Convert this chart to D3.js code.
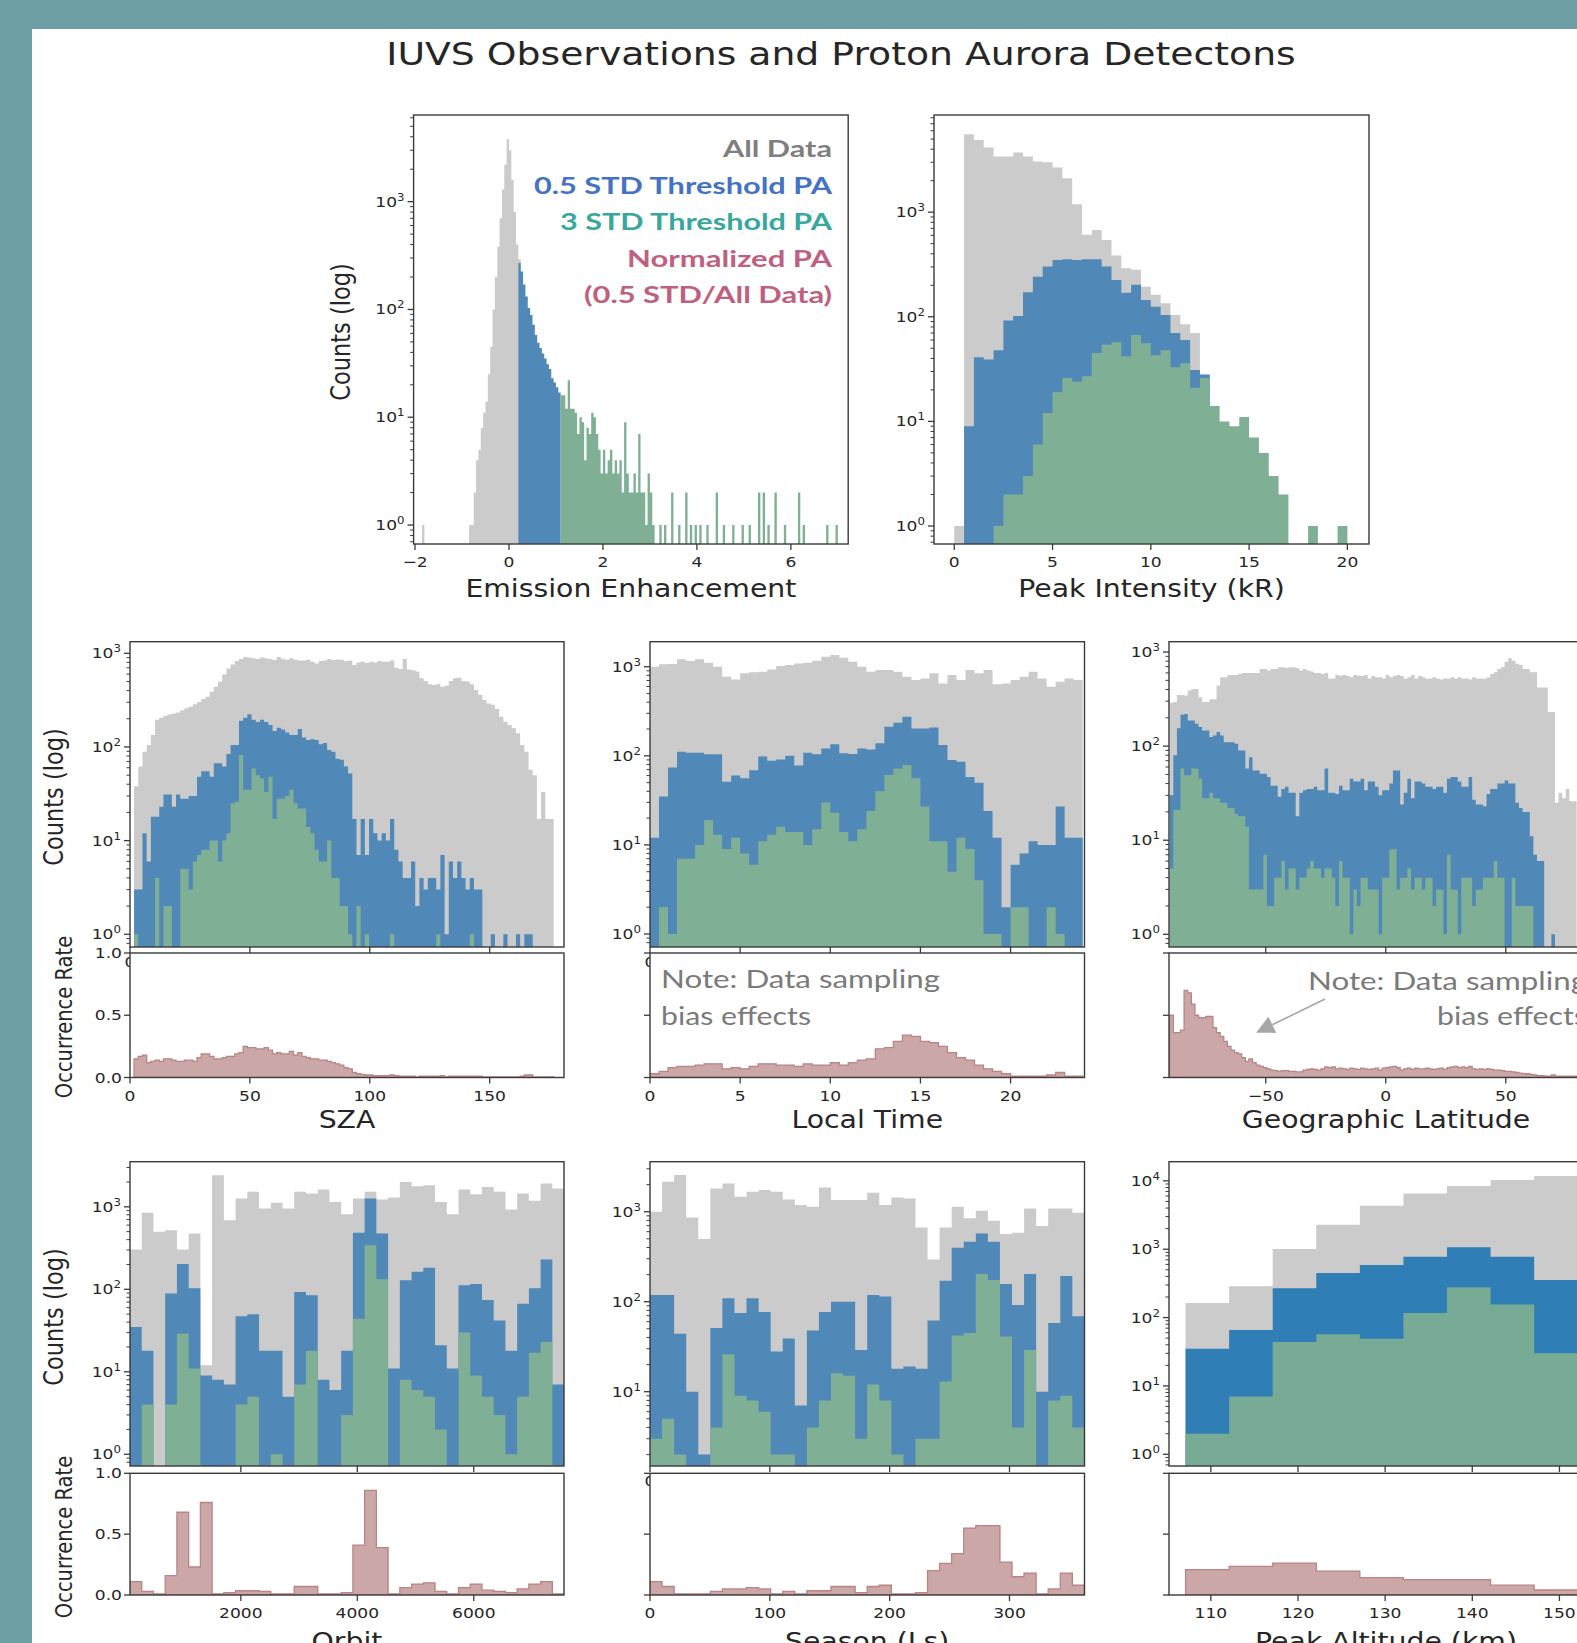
<!DOCTYPE html>
<html>
<head>
<meta charset="utf-8">
<script src="https://cdn.jsdelivr.net/npm/d3@7"></script>
<style>
  body { margin: 0; background: #6d9ea3; }
  svg { display: block; }
  text { font-family: "DejaVu Sans", sans-serif; fill: #262626; }
  .ppt { font-family: Lato, "Open Sans", sans-serif; }
</style>
</head>
<body>
<svg width="1577" height="1643"></svg>
<script>
// the pasted figure is stretched sideways on the slide
const SX = 1.18;

// ---------- data (counts per bin) ----------
const emitWidth = 0.05;
const emitAllStart = -1.85;
const emitAll = [1, 0,0,0,0,0,0,0,0,0,0,0,0,0,0,0,0,0,0,0,
  1,1,2,4,5,8,11,14,25,45,100,200,380,700,1300,2200,3800,3000,1600,800,400,290];
const emitBlueStart = 0.20;
const emitBlue = [270,225,170,132,103,89,72,58,49,44,39,35,31,28,23,21,19,17];
const emitGreenStart = 1.10;
const emitGreen = [16,16,12,22,12,12,11,7,10,9, 4,8,7,11,10,7,5,3,5,3, 4,5,3,4,3,4,2,9,3,2,
  2,3,2,7,2,2,1,3,2,1, 0,0,1,0,1,0,0,2,0,0, 1,0,0,2,0,1,0,1,0,1, 0,0,1,0,0,0,2,0,0,1,
  0,0,0,1,0,0,0,1,0,0, 1,0,0,0,2,0,2,0,1,0, 0,2,0,0,0,1,0,0,0,0, 0,2,0,1,0,0,0,0,0,0,
  0,0,0,1,0,0,0,1];
const emitTicks = [-2, 0, 2, 4, 6];

const peakWidth = 0.5;
const peakAll = [1,5560,4900,4150,3400,3400,3720,3400,3050,3000,2670,2110,1190,607,676,543,385,291,281,194,162,135,104,85,70];
const peakBlue = [0,9,41,39,48,92,102,172,242,302,350,355,350,355,355,302,225,170,202,145,125,104,70,60,31,28];
const peakGreen = [0,0,0,0,1,2,2,3,6,12,19,26,24,27,45,54,57,42,67,56,43,48,33,36,21,26,14,10,9,11,7,5,3,2,0,0,1,0,0,1];
const peakTicks = [0, 5, 10, 15, 20];

const szaStart = 1.7, szaWidth = 1.75;
const szaAll = [38,62,89,105,134,195,205,215,223,228, 234,246,259,268,285,303,325,343,389,440,
  498,595,690,760,826,870,915,900,885,870, 900,885,870,850,915,870,856,885,856,840,
  840,856,815,780,826,840,870,850,860,856, 826,840,750,800,815,790,815,800,826,815,
  815,840,700,680,870,670,660,640,540,507, 468,460,468,440,450,507,540,550,507,500,
  468,405,360,318,292,283,254,210,186,172, 158,140,105,89,57,50,17,33,17,17];
const szaBlue = [3,3,12,6,18,18,23,31,31,23, 31,28,28,30,30,48,55,55,48,67,
  67,62,84,105,105,190,205,223,195,185, 195,185,172,148,160,154,143,134,134,156,
  126,119,121,119,107,110,93,89,75,73, 62,52,17,7,17,7,17,12,10,12,
  10,17,8,6,4,4,6,2,4,3, 4,4,3,7,1,6,4,6,4,3, 4,3,3,0,0,1,0,0,1,0, 0,1,0,1,1,0,0,0,0,0];
const szaGreen = [1,0,0,0,0,4,0,2,2,0, 0,5,5,3,6,7,8,8,10,10, 6,10,12,25,26,82,35,35,59,50,
  46,33,48,17,28,28,30,35,25,22, 22,14,12,8,6,6,10,4,4,2, 2,1,0,2,0,1,0,0,0,0,
  0,1,0,0,0,0,0,0,0,0, 0,0,1,0,0,0,0,0,0,0, 1,0,0,0,0,0,0,0,0,0, 0,0,0,0,0,0,0,0,0,0];
const szaOcc = [.15,.17,.18,.12,.13,.14,.13,.15,.15,.14, .13,.13,.14,.14,.13,.16,.19,.19,.17,.15,
  .15,.16,.17,.17,.19,.20,.25,.24,.24,.23, .23,.24,.22,.19,.20,.19,.19,.21,.18,.20,
  .17,.16,.15,.15,.14,.14,.13,.12,.11,.10, .08,.07,.04,.03,.025,.02,.02,.015,.015,.015,
  .015,.02,.015,.01,.01,.01,.01,.005,.01,.01, .01,.01,.01,.015,.005,.01,.01,.01,.01,.01,
  .01,.01,.01,.005,.005,.005,.005,.005,.005,.005, .005,.005,.01,.02,.02,.005,.005,.005,.005,.005];
const szaTicks = [0, 50, 100, 150];

const ltStart = 0, ltWidth = 0.5;
const ltAll = [1000,1064,1075,1211,1160,1211,1110,1000,773,721, 843,865,880,934,1018,1045,1090,1110,1170,1297,
  1353,1262,1138,1000,880,918,918,880,773,709, 740,843,650,807,709,918,843,918,634,650,
  709,773,880,740,597,679,740,709];
const ltBlue = [12,35,74,111,108,108,104,104,51,60, 56,69,98,88,91,100,78,108,104,121,
  135,107,105,121,118,138,212,235,275,203, 203,208,132,90,86,58,50,24,12,2, 6,8,11,10,10,27,12,12];
const ltGreen = [0,2,1,7,7,10,19,13,9,12, 8,6,11,13,16,14,14,10,15,30, 23,14,11,15,24,40,61,72,79,56,
  27,11,11,5,12,9,4,1,1,0, 2,2,0,0,2,1,0,0];
const ltOcc = [.03,.05,.08,.09,.09,.10,.11,.11,.07,.08, .07,.09,.11,.11,.10,.10,.09,.11,.10,.10,
  .12,.10,.12,.14,.15,.23,.24,.29,.34,.33, .29,.28,.25,.20,.16,.14,.10,.07,.05,.03,
  .01,.01,.01,.01,.02,.04,.01,.01];
const ltTicks = [0, 5, 10, 15, 20];

const latStart = -90, latWidth = 1.5;
const latAll = [290,295,350,350,345,390,405,405,330,295, 295,315,315,440,540,540,570,570,570,585,
  600,600,600,600,600,660,660,635,660,660, 690,690,675,690,690,675,635,660,635,620,
  600,600,585,600,525,520,570,560,570,560, 540,570,560,555,570,525,555,540,540,525,
  570,540,560,570,555,520,540,570,525,555, 540,520,525,540,520,510,525,520,540,525,
  540,520,525,510,540,520,525,520,540,585, 610,660,690,790,860,810,750,730,660,660,
  610,610,420,420,420,230,230,25,32,28, 35,26,26];
const latBlue = [30,80,155,215,220,187,187,173,160,147, 147,125,130,141,130,110,110,110,106,90,
  90,58,76,55,55,51,51,47,38,38, 29,35,37,32,32,18,32,34,35,35, 37,34,34,58,32,32,31,38,34,34,
  45,42,42,45,34,42,42,37,30,34, 34,40,55,55,24,32,45,28,42,42, 40,37,37,35,37,37,32,45,47,47,
  42,37,37,47,27,24,24,23,31,35, 35,40,40,43,40,40,25,22,20,20, 11,7,6,6,0,0,1];
const latGreen = [5,21,21,58,49,49,58,58,45,28, 28,32,28,28,25,25,22,22,19,18, 18,14,3,3,3,3,7,2,2,4,
  4,6,3,5,5,3,4,4,5,6, 5,5,4,5,5,4,2,6,4,4, 1,3,2,4,4,3,3,3,1,4, 4,8,8,3,4,4,5,3,4,4,
  3,4,4,2,3,3,1,7,3,3, 1,4,4,4,2,3,3,4,4,4, 6,4,4,0,0,4,2,2,2,2, 2];
const latOcc = [.50,.36,.36,.38,.70,.68,.59,.50,.48,.48, .49,.49,.40,.36,.33,.29,.25,.22,.20,.19,
  .16,.13,.15,.12,.10,.09,.08,.07,.06,.055, .05,.055,.055,.05,.05,.045,.045,.06,.065,.07,
  .065,.06,.07,.085,.08,.085,.07,.075,.07,.065, .075,.07,.065,.075,.07,.065,.07,.075,.06,.075,
  .08,.085,.09,.08,.06,.07,.075,.065,.075,.07, .07,.075,.07,.065,.07,.075,.065,.08,.085,.09,
  .08,.085,.08,.09,.07,.065,.07,.065,.07,.065, .06,.06,.055,.05,.05,.045,.04,.035,.03,.03,
  .025,.02,.015,.015,.01,.01,.02,.01,.01,.01, .01,.01,.01];
const latTicks = [-50, 0, 50];

const orbitStart = 96, orbitWidth = 201.5;
const orbitAll = [304,845,497,521,304,475,12,2415,689,1260,1518,953,1117,953,1518,1449,1622,1148,815,1260,
  1518,1225,1297,2004,1779,1828,1148,815,1622,1422,1745,1518,927,1449,1181,1914,1666];
const orbitBlue = [35,18,0,89,202,103,9,8,7,47,50,18,18,5,93,85,8,6,18,484,
  1260,475,11,129,163,182,21,11,112,116,74,42,18,67,103,230,7];
const orbitGreen = [0,4,0,4,29,11,0,0,0,4,5,0,1,0,7,18,0,0,3,44,
  343,132,0,8,6,5,2,0,30,9,5,3,1,5,17,23,0];
const orbitOcc = [.11,.03,.01,.16,.68,.23,.76,.01,.02,.035,.035,.03,.01,.01,.07,.07,.01,.01,.02,.41,
  .86,.39,.01,.06,.09,.10,.03,.01,.06,.09,.04,.03,.02,.05,.09,.11,.01];
const orbitTicks = [2000, 4000, 6000];

const seasonStart = 0, seasonWidth = 10.07;
const seasonAll = [1000,2154,2553,865,497,1816,2065,1468,1667,1741,1667,1371,1186,1136,1862,1349,1349,1349,
  1626,1186,1443,1406,670,295,670,1136,844,1026,794,565,585,1089,693,1089,1089,975];
const seasonBlue = [119,119,44,10,2,51,109,75,109,77,28,39,7,48,77,100,100,29,
  119,114,18,19,18,62,171,398,464,574,464,157,92,203,10,58,193,69];
const seasonGreen = [3,5,2,0,0,4,26,9,8,6,2,2,0,4,8,16,15,3,
  12,8,2,0,3,3,13,42,45,203,174,41,4,29,0,8,9,4];
const seasonOcc = [.11,.07,.01,.01,.01,.03,.05,.05,.06,.05,.01,.03,.01,.035,.035,.07,.07,.02,
  .07,.08,.01,.01,.02,.20,.26,.34,.55,.57,.57,.27,.15,.18,.01,.05,.18,.08];
const seasonTicks = [0, 100, 200, 300];

const altStart = 107.1, altWidth = 5;
const altAll = [164,288,1006,2280,4310,6520,8440,10300,11800];
const altBlue = [35,66,269,450,588,778,1065,778,356];
const altGreen = [2,7,44,57,49,117,278,155,30];
const altOcc = [.208,.235,.262,.197,.143,.127,.127,.081,.041];
const altTicks = [110, 120, 130, 140, 150];

const legendLines = ["All Data", "0.5 STD Threshold PA", "3 STD Threshold PA", "Normalized PA", "(0.5 STD/All Data)"];
const noteLines = ["Note: Data sampling", "bias effects"];

// ---------- layout ----------
const rows = {
  top: { y0: 115, y1: 544, tick: 567, title: 597 },
  mid: { y0: 641.7, y1: 947, occ: [953, 1077.5], tick: 1101, title: 1128 },
  bot: { y0: 1161.7, y1: 1466, occ: [1473.3, 1595], tick: 1618, title: 1650 }
};
const cols = [[130, 564], [650, 1084.5], [1169, 1603]];

const col = {
  all: "#cbcbcb", blue: "#5088b8", green: "#7fb096",
  blue2: "#2f7eb5", green2: "#77ab96",
  occFill: "#cca7a7", occLine: "#b98484", axis: "#3a3a3a"
};

const hist = (start, width, counts, color) => ({ start, width, counts, color });

const panels = [
  { row: "top", cols: [413.6, 848.2], xDomain: [-2.03, 7.22], yExp: [-0.176, 3.804],
    ticks: emitTicks, title: "Emission Enhancement", yTitle: [350, 332],
    series: [hist(emitAllStart, emitWidth, emitAll, col.all), hist(emitBlueStart, emitWidth, emitBlue, col.blue),
             hist(emitGreenStart, emitWidth, emitGreen, col.green)] },
  { row: "top", cols: [934, 1369], xDomain: [-1.03, 21.1], yExp: [-0.172, 3.929],
    ticks: peakTicks, title: "Peak Intensity (kR)",
    series: [hist(0, peakWidth, peakAll, col.all), hist(0, peakWidth, peakBlue, col.blue), hist(0, peakWidth, peakGreen, col.green)] },
  { row: "mid", cols: cols[0], xDomain: [0, 181], yExp: [-0.136, 3.124],
    ticks: szaTicks, title: "SZA", yTitle: [63, 797], occTitle: [72, 1017], occLabels: true,
    series: [hist(szaStart, szaWidth, szaAll, col.all), hist(szaStart, szaWidth, szaBlue, col.blue), hist(szaStart, szaWidth, szaGreen, col.green)],
    occ: hist(szaStart, szaWidth, szaOcc) },
  { row: "mid", cols: cols[1], xDomain: [0, 24.1], yExp: [-0.146, 3.281],
    ticks: ltTicks, title: "Local Time",
    series: [hist(ltStart, ltWidth, ltAll, col.all), hist(ltStart, ltWidth, ltBlue, col.blue), hist(ltStart, ltWidth, ltGreen, col.green)],
    occ: hist(ltStart, ltWidth, ltOcc) },
  { row: "mid", cols: cols[2], xDomain: [-90.3, 90.5], yExp: [-0.135, 3.11],
    ticks: latTicks, title: "Geographic Latitude",
    series: [hist(latStart, latWidth, latAll, col.all), hist(latStart, latWidth, latBlue, col.blue), hist(latStart, latWidth, latGreen, col.green)],
    occ: hist(latStart, latWidth, latOcc) },
  { row: "bot", cols: cols[0], xDomain: [96, 7550], yExp: [-0.142, 3.547],
    ticks: orbitTicks, title: "Orbit", yTitle: [63, 1317], occTitle: [72, 1537], occLabels: true,
    series: [hist(orbitStart, orbitWidth, orbitAll, col.all), hist(orbitStart, orbitWidth, orbitBlue, col.blue), hist(orbitStart, orbitWidth, orbitGreen, col.green)],
    occ: hist(orbitStart, orbitWidth, orbitOcc) },
  { row: "bot", cols: cols[1], xDomain: [0, 362.6], yExp: [0.174, 3.556],
    ticks: seasonTicks, title: "Season (Ls)",
    series: [hist(seasonStart, seasonWidth, seasonAll, col.all), hist(seasonStart, seasonWidth, seasonBlue, col.blue), hist(seasonStart, seasonWidth, seasonGreen, col.green)],
    occ: hist(seasonStart, seasonWidth, seasonOcc) },
  { row: "bot", cols: cols[2], xDomain: [105.2, 155], yExp: [-0.171, 4.28],
    ticks: altTicks, title: "Peak Altitude (km)",
    series: [hist(altStart, altWidth, altAll, col.all), hist(altStart, altWidth, altBlue, col.blue2), hist(altStart, altWidth, altGreen, col.green2)],
    occ: hist(altStart, altWidth, altOcc) }
];

// ---------- drawing ----------
const svg = d3.select("svg");
svg.append("rect").attr("width", 1577).attr("height", 1643).attr("fill", "#6d9ea3");
svg.append("rect").attr("x", 32).attr("y", 29).attr("width", 1545).attr("height", 1614).attr("fill", "#fff");

const mtext = (g, x, y, s, size, anchor = "middle", rot = false) =>
  g.append("text")
    .attr("transform", rot ? `translate(${x},${y}) rotate(-90) scale(1,${SX})` : `translate(${x},${y}) scale(${SX},1)`)
    .attr("text-anchor", anchor)
    .attr("font-size", size)
    .text(s);

const fmt = v => v < 0 ? "\u2212" + (-v) : String(v);

const stepPoints = s => {
  const pts = s.counts.map((c, i) => [s.start + i * s.width, c]);
  pts.push([s.start + s.counts.length * s.width, s.counts[s.counts.length - 1]]);
  return pts;
};

mtext(svg, 841, 65, "IUVS Observations and Proton Aurora Detectons", 32);

const drawPanel = (p, idx) => {
  const row = rows[p.row];
  const [x0, x1] = p.cols;
  const x = d3.scaleLinear().domain(p.xDomain).range([x0, x1]);
  const y = d3.scaleLog().domain(p.yExp.map(e => 10 ** e)).range([row.y1, row.y0]).clamp(true);
  const g = svg.append("g");

  g.append("clipPath").attr("id", `clip${idx}`)
    .append("rect").attr("x", x0).attr("y", row.y0).attr("width", x1 - x0).attr("height", row.y1 - row.y0);

  const plot = g.append("g").attr("clip-path", `url(#clip${idx})`);
  const area = d3.area().curve(d3.curveStepAfter)
    .x(d => x(d[0]))
    .y0(row.y1)
    .y1(d => d[1] > 0 ? y(d[1]) : row.y1);

  p.series.forEach(s => plot.append("path").attr("d", area(stepPoints(s))).attr("fill", s.color));

  g.append("rect")
    .attr("x", x0).attr("y", row.y0).attr("width", x1 - x0).attr("height", row.y1 - row.y0)
    .attr("fill", "none").attr("stroke", col.axis).attr("stroke-width", 1.4);

  // log y ticks
  const [lo, hi] = p.yExp;
  const minor = [];
  for (let e = Math.floor(lo); e <= Math.ceil(hi); e++) {
    for (let m = 2; m <= 9; m++) {
      const v = m * 10 ** e;
      if (Math.log10(v) >= lo && Math.log10(v) <= hi) minor.push(v);
    }
  }
  const major = d3.range(Math.ceil(lo), Math.floor(hi) + 1);

  g.selectAll(null).data(minor).join("line")
    .attr("x1", x0 - 3.5).attr("x2", x0)
    .attr("y1", d => y(d)).attr("y2", d => y(d))
    .attr("stroke", col.axis).attr("stroke-width", 1);

  g.selectAll(null).data(major).join("line")
    .attr("x1", x0 - 6).attr("x2", x0)
    .attr("y1", e => y(10 ** e)).attr("y2", e => y(10 ** e))
    .attr("stroke", col.axis).attr("stroke-width", 1.3);

  major.forEach(e => {
    const t = g.append("text")
      .attr("transform", `translate(${x0 - 9},${y(10 ** e) + 5}) scale(${SX},1)`)
      .attr("text-anchor", "end").attr("font-size", 14.5);
    t.append("tspan").text("10");
    t.append("tspan").attr("font-size", 10).attr("dy", -6).text(e);
  });

  // x ticks of the counts axes
  g.selectAll(null).data(p.ticks).join("line")
    .attr("x1", d => x(d)).attr("x2", d => x(d))
    .attr("y1", row.y1).attr("y2", row.y1 + 6)
    .attr("stroke", col.axis).attr("stroke-width", 1.3);

  // with a ratio panel below, only the label sitting on the left edge peeks out
  const shown = p.occ ? p.ticks.filter(d => Math.abs(x(d) - x0) < 2) : p.ticks;
  shown.forEach(d => mtext(g, x(d), p.occ ? row.y1 + 20 : row.tick, fmt(d), 14.5));

  if (p.yTitle) mtext(g, p.yTitle[0], p.yTitle[1], "Counts (log)", 22.5, "middle", true);

  let yo = null;
  if (p.occ) {
    const [o0, o1] = row.occ;
    yo = d3.scaleLinear().domain([0, 1]).range([o1, o0]);
    const og = svg.append("g");
    og.append("rect").attr("x", x0).attr("y", o0).attr("width", x1 - x0).attr("height", o1 - o0).attr("fill", "#fff");

    og.append("clipPath").attr("id", `oclip${idx}`)
      .append("rect").attr("x", x0).attr("y", o0).attr("width", x1 - x0).attr("height", o1 - o0);

    const oarea = d3.area().curve(d3.curveStepAfter)
      .x(d => x(d[0])).y0(o1).y1(d => yo(d[1]));

    og.append("g").attr("clip-path", `url(#oclip${idx})`)
      .append("path")
      .attr("d", oarea(stepPoints(p.occ)))
      .attr("fill", col.occFill)
      .attr("stroke", col.occLine).attr("stroke-width", 1.3);

    og.append("rect")
      .attr("x", x0).attr("y", o0).attr("width", x1 - x0).attr("height", o1 - o0)
      .attr("fill", "none").attr("stroke", col.axis).attr("stroke-width", 1.4);

    const oticks = [0, 0.5, 1];
    og.selectAll(null).data(oticks).join("line")
      .attr("x1", x0 - 6).attr("x2", x0)
      .attr("y1", d => yo(d)).attr("y2", d => yo(d))
      .attr("stroke", col.axis).attr("stroke-width", 1.3);
    if (p.occLabels) oticks.forEach(d => mtext(og, x0 - 8, yo(d) + 5, d3.format(".1f")(d), 14.5, "end"));

    og.selectAll(null).data(p.ticks).join("line")
      .attr("x1", d => x(d)).attr("x2", d => x(d))
      .attr("y1", o1).attr("y2", o1 + 6)
      .attr("stroke", col.axis).attr("stroke-width", 1.3);
    p.ticks.forEach(d => mtext(og, x(d), row.tick, fmt(d), 14.5));

    if (p.occTitle) mtext(og, p.occTitle[0], p.occTitle[1], "Occurrence Rate", 19.5, "middle", true);
  }

  mtext(svg, (x0 + Math.min(x1, 1603)) / 2, row.title, p.title, 24);
  return { x, yo };
};

const scales = panels.map(drawPanel);

// legend of the slide
const legendColors = ["#7f7f7f", "#4472c4", "#38a89c", "#c0607f", "#c0607f"];
const legendWidths = [109, 298, 272, 205, 248];
legendLines.forEach((s, i) => {
  svg.append("text").attr("class", "ppt")
    .attr("x", 832).attr("y", 157 + i * 36.6)
    .attr("text-anchor", "end")
    .attr("font-size", 23).attr("font-weight", 700)
    .attr("textLength", legendWidths[i]).attr("lengthAdjust", "spacingAndGlyphs")
    .style("fill", legendColors[i])
    .text(s);
});

// notes on the local time and latitude panels
const noteWidths = [279, 150];
noteLines.forEach((s, i) => {
  svg.append("text").attr("class", "ppt")
    .attr("x", 661).attr("y", 988 + i * 37)
    .attr("font-size", 25)
    .attr("textLength", noteWidths[i]).attr("lengthAdjust", "spacingAndGlyphs")
    .style("fill", "#7a7a7a").text(s);
  svg.append("text").attr("class", "ppt")
    .attr("x", 1587).attr("y", 990 + i * 35)
    .attr("text-anchor", "end")
    .attr("font-size", 25)
    .attr("textLength", noteWidths[i]).attr("lengthAdjust", "spacingAndGlyphs")
    .style("fill", "#7a7a7a").text(s);
});

// arrow pointing at the southern latitudes
const lat = scales[4];
const from = [lat.x(-25.3), lat.yo(0.63)];
const tip = [lat.x(-54), lat.yo(0.36)];
const len = Math.hypot(tip[0] - from[0], tip[1] - from[1]);
const ux = (tip[0] - from[0]) / len, uy = (tip[1] - from[1]) / len;
const base = [tip[0] - ux * 18, tip[1] - uy * 18];
svg.append("line")
  .attr("x1", from[0]).attr("y1", from[1]).attr("x2", base[0]).attr("y2", base[1])
  .attr("stroke", "#a6a6a6").attr("stroke-width", 1.6);
svg.append("path")
  .attr("d", d3.line()([tip, [base[0] - uy * 9, base[1] + ux * 9], [base[0] + uy * 9, base[1] - ux * 9]]) + "Z")
  .attr("fill", "#a6a6a6");
</script>
</body>
</html>
